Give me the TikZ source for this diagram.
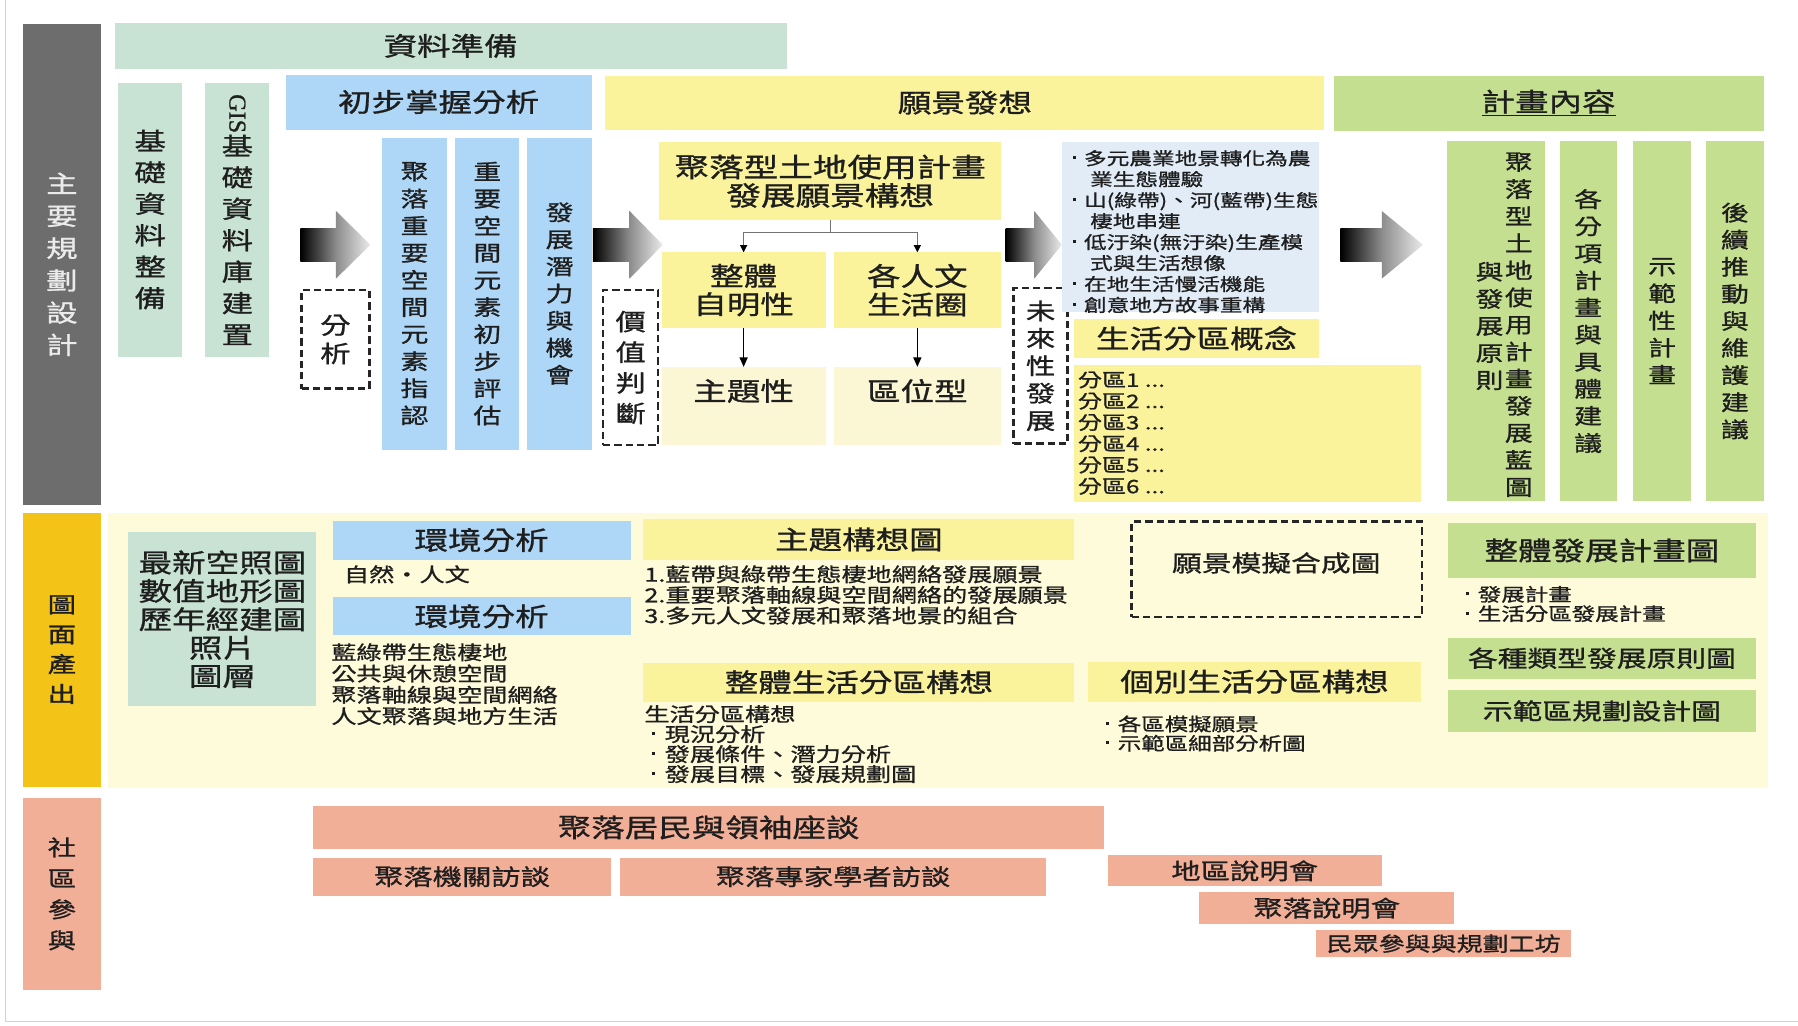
\documentclass[tikz,border=0pt]{standalone}
\usepackage{fontspec}
\setmainfont{Noto Sans CJK TC}[FakeStretch=1.3, FakeBold=1]
\newfontfamily\gisfont{Liberation Serif}[FakeBold=1]
\usetikzlibrary{arrows.meta}
\definecolor{cgray}{HTML}{6D6D6D}
\definecolor{cmint}{HTML}{C8E3D3}
\definecolor{cblue}{HTML}{AED6F6}
\definecolor{cyel}{HTML}{FAF39C}
\definecolor{cpale}{HTML}{FBF6D3}
\definecolor{clblue}{HTML}{E1ECF7}
\definecolor{cgreen}{HTML}{C5DF90}
\definecolor{corange}{HTML}{F4C318}
\definecolor{cmid}{HTML}{FDFBD9}
\definecolor{csalmon}{HTML}{F2AF98}
\definecolor{ctext}{HTML}{1E1E1E}
\newcommand\fsz[2]{\fontsize{#1}{#2}\selectfont}
\newcommand\mybox[7]{\node[R, minimum width={(#5-#3)*0.025cm}, minimum height={(#6-#4)*0.025cm}, #1] (#2) at ({(#3+#5)/2},{(#4+#6)/2}) {#7};}
\newcommand\mybul{\makebox[0.75em][l]{\hspace{0.1em}\raisebox{0.33em}{\rule{0.17em}{0.17em}}}}
\newcommand\garrow[3]{%
  \shade[left color=black, right color=black!45] (#1,199) rectangle (#2,228);
  \shade[left color=black!45, right color=black!8] (#2,184) -- (#3,213.5) -- (#2,243) -- cycle;}
\begin{document}
\begin{tikzpicture}[x=0.025cm, y=-0.025cm,
  R/.style={inner sep=0pt, outer sep=0pt, text=ctext, align=center},
  T/.style={inner sep=0pt, outer sep=0pt, text=ctext},
  dbox/.style={draw=black!85, line width=1.6pt, dash pattern=on 4.5pt off 2.5pt},
  conn/.style={draw=black!55, line width=0.6pt, -{Triangle[length=4.5pt,width=4.5pt,color=black]}},
  darr/.style={draw=black, line width=1pt, -{Triangle[length=6pt,width=5pt]}},
  vcol/.style={font=\fsz{13.3}{16.8}},
  big/.style={font=\fsz{16}{17.6}},
  mid/.style={font=\fsz{14.2}{16}},
  small/.style={font=\fsz{12}{13.2}},
]
\useasboundingbox (0,0) rectangle (1568,894);
\fill[white] (0,0) rectangle (1568,894);
\draw[gray!35, line width=0.8pt] (5,0) -- (5,891) -- (1568,891);

% ---- left bars
\mybox{fill=cgray, text=white!92!black, font=\fsz{15}{20}}{bar1}{20}{21}{88}{440}{主\\要\\規\\劃\\設\\計}
\mybox{fill=corange, font=\fsz{13.5}{18.5}}{bar2}{20}{447}{88}{686}{圖\\面\\產\\出}
\mybox{fill=csalmon, font=\fsz{13.5}{19.2}}{bar3}{20}{696}{88}{863}{社\\區\\參\\與}

% ---- top headers
\mybox{fill=cmint, big}{prep}{100}{20}{686}{60}{資料準備}
\mybox{fill=cmint, font=\fsz{15}{19.5}}{jichu}{103}{72}{159}{311}{基\\礎\\資\\料\\整\\備}
\mybox{fill=cmint, font=\fsz{15}{19.5}}{gis}{179}{72}{235}{311}{\rotatebox{-90}{\gisfont GIS}\\基\\礎\\資\\料\\庫\\建\\置}
\mybox{fill=cblue, big}{chubu}{249}{65}{516}{113}{初步掌握分析}
\mybox{fill=cyel, big}{yj}{528}{66}{1155}{113}{願景發想}
\mybox{fill=cgreen, big}{jh}{1163}{66}{1538}{114}{\underline{計畫內容}}

% ---- blue columns
\mybox{fill=cblue, vcol}{b1}{333}{120}{390}{392}{聚\\落\\重\\要\\空\\間\\元\\素\\指\\認}
\mybox{fill=cblue, vcol}{b2}{397}{120}{453}{392}{重\\要\\空\\間\\元\\素\\初\\步\\評\\估}
\mybox{fill=cblue, vcol}{b3}{460}{120}{516}{392}{發\\展\\潛\\力\\與\\機\\會}

% ---- gradient arrows
\garrow{262}{293}{323}
\garrow{517}{549}{578}
\garrow{877}{902}{926}
\garrow{1169}{1205}{1241}

% ---- dashed boxes
\mybox{dbox, font=\fsz{14.5}{17.6}}{d1}{263}{253}{322}{339}{分\\析}
\mybox{dbox, font=\fsz{14.5}{19}}{d2}{526}{253}{574}{388}{價\\值\\判\\斷}
\mybox{dbox, font=\fsz{14}{17}}{d3}{884}{251}{931}{387}{未\\來\\性\\發\\展}

% ---- vision block
\mybox{fill=cyel, font=\fsz{16.5}{17.6}}{vis}{575}{124}{873}{192}{聚落型土地使用計畫\\發展願景構想}
\mybox{fill=cyel, font=\fsz{16}{17.6}}{whole}{577}{220}{720}{286}{整體\\自明性}
\mybox{fill=cyel, font=\fsz{16}{17.6}}{ren}{727}{220}{873}{286}{各人文\\生活圈}
\mybox{fill=cpale}{theme}{577}{320}{720}{388}{}
\mybox{fill=cpale}{loc}{727}{320}{873}{388}{}
\node[T, font=\fsz{16}{17.6}] (themet) at (648.5,341) {主題性};
\node[T, font=\fsz{16}{17.6}] (loct) at (800,341) {區位型};
\draw[conn] (vis.south) -- ++(0,11) -| (whole.north);
\draw[conn] (vis.south) -- ++(0,11) -| (ren.north);
\draw[darr] (whole.south) -- (theme.north);
\draw[darr] (ren.south) -- (loc.north);

% ---- future block
\mybox{fill=clblue}{bulbox}{926}{124}{1150}{272}{}
\node[T, anchor=north west, align=left, font=\fsz{10.8}{13}] (bultxt) at (934,131) {%
\mybul 多元農業地景轉化為農\\
\hspace*{1.1em}業生態體驗\\
\mybul 山(綠帶)、河(藍帶)生態\\
\hspace*{1.1em}棲地串連\\
\mybul 低汙染(無汙染)生產模\\
\hspace*{1.1em}式與生活想像\\
\mybul 在地生活慢活機能\\
\mybul 創意地方故事重構};
\mybox{fill=cyel, big}{concept}{937}{278}{1150}{312}{生活分區概念}
\mybox{fill=cyel}{zones}{937}{318}{1239}{438}{}
\node[T, anchor=north west, align=left, font=\fsz{11.5}{13.2}] (zonetxt) at (940,324) {分區1 ...\\分區2 ...\\分區3 ...\\分區4 ...\\分區5 ...\\分區6 ...};

% ---- green columns
\mybox{fill=cgreen}{g1}{1262}{123}{1347}{437}{}
\node[T, anchor=north, align=center, vcol] (g1a) at (1324.5,133) {聚\\落\\型\\土\\地\\使\\用\\計\\畫\\發\\展\\藍\\圖};
\node[T, anchor=north, align=center, vcol] (g1b) at (1299,228.5) {與\\發\\展\\原\\則};
\mybox{fill=cgreen, vcol}{g2}{1360}{123}{1410}{437}{各\\分\\項\\計\\畫\\與\\具\\體\\建\\議}
\mybox{fill=cgreen, vcol}{g3}{1424}{123}{1475}{437}{示\\範\\性\\計\\畫}
\mybox{fill=cgreen, vcol}{g4}{1488}{123}{1538}{437}{後\\續\\推\\動\\與\\維\\護\\建\\議}

% ---- middle section
\mybox{fill=cmid}{midbg}{94}{447}{1542}{687}{}
\mybox{fill=cmint, font=\fsz{16}{17.6}}{photos}{112}{464}{276}{616}{最新空照圖\\數值地形圖\\歷年經建圖\\照片\\圖層}
\mybox{fill=cblue, big}{env1}{290}{454}{550}{488}{環境分析}
\node[T, anchor=north west, small] (nat) at (300,493) {自然・人文};
\mybox{fill=cblue, big}{env2}{290}{521}{550}{554}{環境分析}
\node[T, anchor=north west, align=left, small] (envtxt) at (289,561) {藍綠帶生態棲地\\公共與休憩空間\\聚落軸線與空間網絡\\人文聚落與地方生活};
\mybox{fill=cyel, big}{topic}{561}{453}{937}{488}{主題構想圖}
\node[T, anchor=north west, align=left, font=\fsz{12}{12.8}] (topictxt) at (562,493) {1.藍帶與綠帶生態棲地網絡發展願景\\2.重要聚落軸線與空間網絡的發展願景\\3.多元人文發展和聚落地景的組合};
\mybox{fill=cyel, big}{zall}{561}{578}{937}{612}{整體生活分區構想}
\node[T, anchor=north west, align=left, font=\fsz{12}{12.4}] (zalltxt) at (562,615) {生活分區構想\\\hspace*{0.3em}\mybul 現況分析\\\hspace*{0.3em}\mybul 發展條件、潛力分析\\\hspace*{0.3em}\mybul 發展目標、發展規劃圖};
\mybox{dbox}{sim}{987}{455}{1240}{538}{}
\node[T, mid] (simt) at (1113,491) {願景模擬合成圖};
\mybox{fill=cyel, big}{zind}{949}{577}{1239}{612}{個別生活分區構想}
\node[T, anchor=north west, align=left, font=\fsz{11.2}{12}] (zindtxt) at (963,624) {\mybul 各區模擬願景\\\mybul 示範區細部分析圖};
\mybox{fill=cgreen, big}{plan}{1263}{456}{1531}{504}{整體發展計畫圖}
\node[T, anchor=north west, align=left, font=\fsz{11.2}{12}] (plantxt) at (1277,511) {\mybul 發展計畫\\\mybul 生活分區發展計畫};
\mybox{fill=cgreen, mid}{types}{1263}{556}{1531}{592}{各種類型發展原則圖}
\mybox{fill=cgreen, mid}{demo}{1263}{602}{1531}{638}{示範區規劃設計圖}

% ---- community participation
\mybox{fill=csalmon, big}{s1}{273}{703}{963}{740}{聚落居民與領袖座談}
\mybox{fill=csalmon, font=\fsz{14}{16}}{s2}{273}{748}{533}{781}{聚落機關訪談}
\mybox{fill=csalmon, font=\fsz{14}{16}}{s3}{541}{748}{912}{781}{聚落專家學者訪談}
\mybox{fill=csalmon, font=\fsz{14}{16}}{s4}{966}{746}{1205}{773}{地區說明會}
\mybox{fill=csalmon, font=\fsz{14}{16}}{s5}{1046}{778}{1268}{806}{聚落說明會}
\mybox{fill=csalmon, font=\fsz{12.4}{14}}{s6}{1148}{811}{1370}{835}{民眾參與與規劃工坊}
\end{tikzpicture}
\end{document}
